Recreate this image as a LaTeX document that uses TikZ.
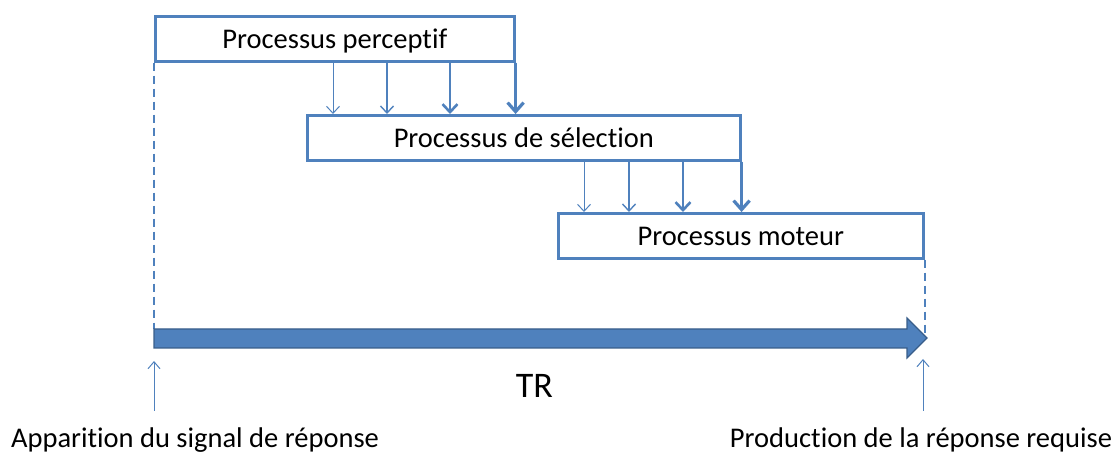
\documentclass[tikz,border=0pt]{standalone}
\usepackage{fontspec}
\setmainfont[Ligatures=NoCommon]{Carlito}
\usetikzlibrary{arrows.meta,calc}
\definecolor{procblue}{HTML}{4F81BD}
\definecolor{procdark}{HTML}{385D8A}
\newcommand{\labelfont}{\fontsize{28.5}{32}\selectfont}
\begin{document}
\begin{tikzpicture}[x=1pt,y=-1pt,
  procbox/.style={draw=procblue, line width=2.6pt, fill=white, inner sep=0pt, anchor=north west},
  boxtext/.style={font=\labelfont, inner sep=0pt, anchor=base},
  flowA/.style={procblue, line width=1pt, -{Straight Barb[length=7pt,width=13pt,line width=1pt]}},
  flowB/.style={procblue, line width=1.4pt, -{Straight Barb[length=7pt,width=13pt,line width=1.4pt]}},
  flowC/.style={procblue, line width=2.6pt, -{Straight Barb[length=8pt,width=15pt,line width=2.6pt]}},
  flowD/.style={procblue, line width=3.2pt, -{Straight Barb[length=9pt,width=16pt,line width=3.2pt]}},
  guide/.style={procblue, line width=1.8pt, dash pattern=on 8pt off 5pt},
  marker/.style={procblue, line width=1pt, -{Straight Barb[length=7pt,width=12pt,line width=1pt]}},
  caption/.style={font=\labelfont, inner sep=0pt, anchor=base}]
\useasboundingbox (0,0) rectangle (1120,454);

% the three processing stages
\node[procbox, minimum width=359pt, minimum height=45pt] (p) at (154,15) {};
\node[boxtext] (pt) at ($(p.center)+(0,9.5)$) {Processus perceptif};
\node[procbox, minimum width=433pt, minimum height=45pt] (s) at (306,114) {};
\node[boxtext] (st) at ($(s.center)+(0,9.5)$) {Processus de sélection};
\node[procbox, minimum width=365pt, minimum height=45pt] (m) at (557,212) {};
\node[boxtext] (mt) at ($(m.center)+(0,9.5)$) {Processus moteur};

% transfer from perception to selection
\draw[flowA] (p.south -| 333,0) -- (s.north -| 333,0);
\draw[flowB] (p.south -| 387,0) -- (s.north -| 387,0);
\draw[flowC] (p.south -| 450,0) -- (s.north -| 450,0);
\draw[flowD] (p.south east) -- (p.south east |- s.north);

% transfer from selection to motor
\draw[flowA] (s.south -| 584,0) -- (m.north -| 584,0);
\draw[flowB] (s.south -| 629,0) -- (m.north -| 629,0);
\draw[flowC] (s.south -| 683,0) -- (m.north -| 683,0);
\draw[flowD] (s.south east) -- (s.south east |- m.north);

% reaction time axis
\coordinate (t0) at (154,329);
\coordinate (t1) at (927,338);
\draw[guide] (p.south west) -- (t0);
\draw[guide] (m.south east) -- (m.south east |- t1);
\fill[procblue, draw=procdark, line width=1.2pt]
  (154,329) -- (907,329) -- (907,318) -- (t1) -- (907,358) -- (907,348) -- (154,348) -- cycle;
\node (tr) at (534.5,385.5) [font=\fontsize{36}{40}\selectfont, inner sep=0pt] {TR};

% start and end events
\node[caption] (start) at (195,447) {Apparition du signal de réponse};
\node[caption] (end) at (921,447) {Production de la réponse requise};
\draw[marker] (154,411) -- (154,361);
\draw[marker] (923,411) -- (923,359);
\end{tikzpicture}
\end{document}
